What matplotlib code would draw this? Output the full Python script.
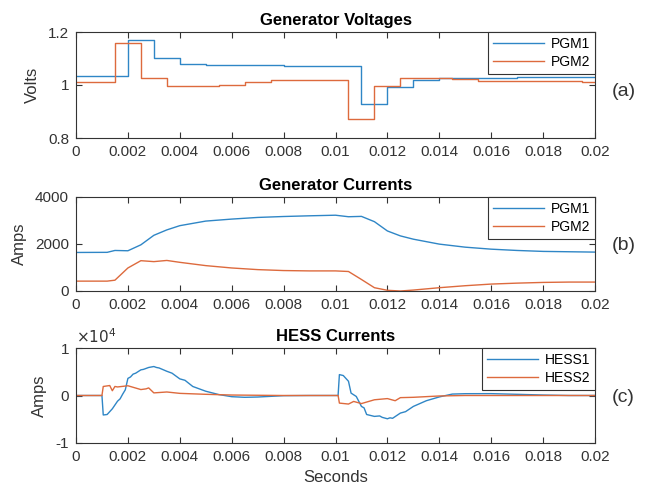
import numpy as np
import matplotlib.pyplot as plt
from matplotlib.ticker import FuncFormatter

plt.rcParams['font.family'] = ['Liberation Sans', 'DejaVu Sans']
plt.rcParams['axes.unicode_minus'] = False

blue = '#2f86c6'
orange = '#dd6a3d'
grey = '#333333'

# --- generator voltages (step changes) ---
t_v1 = [0, 0.002, 0.003, 0.004, 0.005, 0.008, 0.011, 0.012, 0.013, 0.014, 0.0155, 0.017, 0.02]
v_pgm1 = [1.034, 1.168, 1.103, 1.080, 1.074, 1.071, 0.930, 0.993, 1.019, 1.025, 1.027, 1.030, 1.030]
t_v2 = [0, 0.0015, 0.0025, 0.0035, 0.0055, 0.0065, 0.0075, 0.0105, 0.0115, 0.0125, 0.0145, 0.0155, 0.0195, 0.02]
v_pgm2 = [1.010, 1.160, 1.025, 0.996, 1.000, 1.012, 1.019, 0.871, 0.998, 1.027, 1.022, 1.015, 1.010, 1.010]

# --- generator currents ---
t_i = [0, 0.0012, 0.0015, 0.002, 0.0025, 0.003, 0.0035, 0.004, 0.005, 0.006, 0.007,
       0.008, 0.009, 0.010, 0.0105, 0.011, 0.0115, 0.012, 0.0125, 0.013, 0.014, 0.015,
       0.016, 0.017, 0.018, 0.019, 0.02]
i_pgm1 = [1640, 1645, 1725, 1712, 1965, 2370, 2600, 2780, 2975, 3060, 3130,
          3170, 3200, 3225, 3160, 3175, 2950, 2555, 2345, 2205, 1995, 1865,
          1780, 1725, 1685, 1670, 1655]
i_pgm2 = [420, 420, 460, 980, 1290, 1250, 1300, 1220, 1080, 980, 910,
          870, 855, 855, 830, 490, 140, 30, 0, 40, 140, 225,
          295, 335, 365, 380, 380]

# --- HESS currents ---
t_h1 = [0, 0.001, 0.00105, 0.0012, 0.0013, 0.0014, 0.0015, 0.0016, 0.0017, 0.0018, 0.0019,
        0.002, 0.0021, 0.0022, 0.0023, 0.0025, 0.0026, 0.0028, 0.003, 0.0031, 0.0032,
        0.0035, 0.0037, 0.004, 0.0042, 0.0045, 0.005,
        0.0055, 0.006, 0.0065, 0.007, 0.0075, 0.008, 0.009, 0.0101, 0.01015, 0.0103,
        0.0105, 0.0106, 0.0108, 0.011, 0.0111, 0.0112, 0.0115, 0.0117, 0.0118, 0.012,
        0.0121, 0.0122, 0.0125, 0.0127, 0.013, 0.0135, 0.014, 0.0145, 0.015, 0.016,
        0.017, 0.018, 0.019, 0.02]
h_hess1 = [0, 0, -4100, -4000, -3400, -2800, -2000, -1200, -700, 300, 1200,
           3600, 3900, 4500, 4700, 5400, 5500, 5900, 6100, 5900, 5800,
           5100, 4700, 3500, 3200, 1900, 900,
           200, -250, -380, -320, -180, -40, 0, 0, 4400, 4200,
           3000, 500, -200, -2300, -2600, -4000, -4400, -4300, -4600, -4900,
           -4700, -4800, -3700, -3400, -2300, -1100, -300, 300, 380, 390,
           250, 100, 0, 0]
t_h2 = [0, 0.001, 0.00105, 0.0013, 0.0014, 0.0015, 0.0016, 0.002, 0.0025, 0.0027,
        0.0028, 0.003, 0.0035, 0.004, 0.005, 0.006, 0.008, 0.0101, 0.01015, 0.0105,
        0.0107, 0.011, 0.0115, 0.012, 0.0123, 0.0125, 0.013, 0.014, 0.015, 0.02]
h_hess2 = [0, 0, 1900, 2100, 1000, 1900, 1800, 2050, 1250, 1400,
           1600, 550, 740, 450, 250, 100, 0, 0, -1600, -1800,
           -1250, -1700, -900, -650, -1100, -450, -380, -100, 0, 0]

xticks = np.arange(0, 0.0201, 0.002)

fig = plt.figure(figsize=(6.55, 4.97), dpi=100)
ax_a = fig.add_axes([76/655, 1-138/497, 519/655, 106/497])
ax_b = fig.add_axes([76/655, 1-291/497, 519/655, 94/497])
ax_c = fig.add_axes([76/655, 1-443/497, 519/655, 95/497])


def style(ax, title, ylabel):
    ax.set_xlim(0, 0.02)
    ax.set_xticks(xticks)
    ax.xaxis.set_major_formatter(FuncFormatter(lambda v, p: '%g' % round(v, 4)))
    ax.tick_params(direction='in', top=True, right=True, length=4, width=0.8,
                   colors=grey, labelsize=11, pad=5)
    for s in ax.spines.values():
        s.set_color(grey)
        s.set_linewidth(0.8)
    ax.set_title(title, fontsize=12, fontweight='bold', pad=5)
    ax.set_ylabel(ylabel, fontsize=12, color=grey, labelpad=6)


def legend(ax):
    leg = ax.legend(loc='upper right', borderaxespad=0, fancybox=False,
                    edgecolor=grey, framealpha=1, fontsize=10,
                    handlelength=3.7, handletextpad=0.45, labelspacing=0.3,
                    borderpad=0.35)
    leg.get_frame().set_linewidth(0.8)


ax_a.plot(t_v1, v_pgm1, drawstyle='steps-post', color=blue, lw=1.0, label='PGM1')
ax_a.plot(t_v2, v_pgm2, drawstyle='steps-post', color=orange, lw=1.0, label='PGM2')
style(ax_a, 'Generator Voltages', 'Volts')
ax_a.set_ylim(0.8, 1.2)
ax_a.set_yticks([0.8, 1.0, 1.2])
ax_a.yaxis.set_major_formatter(FuncFormatter(lambda v, p: '%g' % round(v, 2)))
legend(ax_a)

ax_b.plot(t_i, i_pgm1, color=blue, lw=1.0, label='PGM1')
ax_b.plot(t_i, i_pgm2, color=orange, lw=1.0, label='PGM2')
style(ax_b, 'Generator Currents', 'Amps')
ax_b.set_ylim(0, 4000)
ax_b.set_yticks([0, 2000, 4000])
legend(ax_b)

ax_c.plot(t_h1, h_hess1, color=blue, lw=1.0, label='HESS1')
ax_c.plot(t_h2, h_hess2, color=orange, lw=1.0, label='HESS2')
style(ax_c, 'HESS Currents', 'Amps')
ax_c.set_ylim(-1e4, 1e4)
ax_c.set_yticks([-1e4, 0, 1e4])
ax_c.yaxis.set_major_formatter(FuncFormatter(lambda v, p: '%g' % (v / 1e4)))
ax_c.text(0, 1.02, r'$\times10^{4}$', transform=ax_c.transAxes, fontsize=11,
          color=grey, ha='left', va='bottom')
ax_c.set_xlabel('Seconds', fontsize=12, color=grey, labelpad=4)
legend(ax_c)

for lab, yc in [('(a)', 92), ('(b)', 245), ('(c)', 397)]:
    fig.text(612/655, 1-yc/497, lab, fontsize=14, color=grey, ha='left', va='center')

fig.savefig('out.png', dpi=100)
